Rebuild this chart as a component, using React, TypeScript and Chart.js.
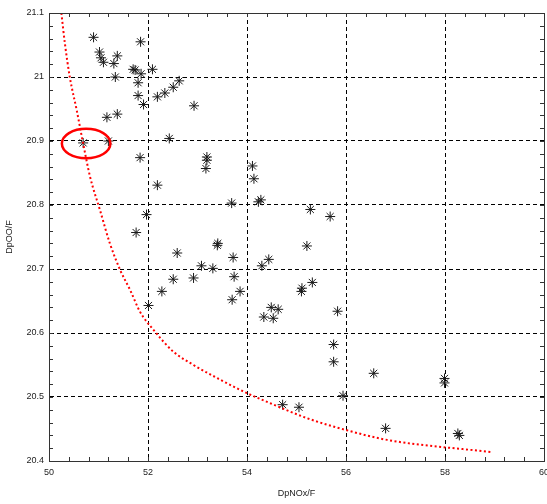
import { useEffect, useRef } from "react";
import { Chart, registerables } from "chart.js";

Chart.register(...registerables);

// Axis ranges & ticks
const xMin = 50;
const xMax = 60;
const xStep = 2;
const xMinorStep = 0.4;
const yMin = 20.4;
const yMax = 21.1;
const yStep = 0.1;
const yMinorStep = 0.02;

const xTitle = "DpNOx/F";
const yTitle = "DpOO/F";

// Scatter points (asterisks)
const pointsX = [
  50.9, 51.02, 51.05, 51.1, 51.31, 51.38, 51.34, 51.17, 51.38, 50.69,
  51.85, 51.7, 51.74, 51.86, 51.8, 51.8, 51.91, 52.09, 52.19, 52.34,
  52.51, 52.63, 52.93, 52.43, 51.84, 52.19, 53.19, 53.19, 53.17, 51.97,
  51.76, 53.69, 54.11, 54.14, 54.23, 54.28, 55.28, 55.68, 53.41, 53.4,
  52.59, 53.72, 55.21, 53.08, 53.31, 54.3, 54.44, 52.51, 52.92, 53.74,
  52.28, 53.86, 53.7, 52.01, 55.11, 55.1, 55.32, 54.49, 54.63, 54.34,
  54.53, 55.83, 55.75, 55.75, 56.56, 57.99, 57.99, 55.94, 54.72, 55.05,
  56.8, 58.26, 58.29, 51.2,
];
const pointsY = [
  21.062, 21.039, 21.03, 21.023, 21.021, 21.033, 21.0, 20.937, 20.942, 20.897,
  21.055, 21.012, 21.011, 21.005, 20.991, 20.971, 20.957, 21.012, 20.969, 20.975,
  20.984, 20.994, 20.955, 20.904, 20.874, 20.831, 20.875, 20.87, 20.857, 20.785,
  20.757, 20.803, 20.861, 20.841, 20.805, 20.808, 20.793, 20.782, 20.74, 20.737,
  20.725, 20.718, 20.736, 20.705, 20.701, 20.705, 20.715, 20.684, 20.686, 20.688,
  20.665, 20.665, 20.652, 20.643, 20.67, 20.665, 20.679, 20.64, 20.637, 20.625,
  20.623, 20.634, 20.582, 20.555, 20.537, 20.529, 20.522, 20.502, 20.488, 20.484,
  20.451, 20.443, 20.44, 20.9,
];

// Red dotted frontier curve
const curveX = [
  50.25, 50.32, 50.42, 50.56, 50.69, 50.83, 51.03, 51.23, 51.44, 51.64,
  51.84, 52.11, 52.51, 52.92, 53.46, 54.0, 54.54, 55.21, 56.02, 56.83, 58.92,
];
const curveY = [
  21.1, 21.053, 21.0, 20.948, 20.896, 20.844, 20.792, 20.74, 20.698, 20.667,
  20.633, 20.605, 20.571, 20.55, 20.527, 20.506, 20.488, 20.467, 20.448, 20.433, 20.414,
];

// Highlight ellipse (data units)
const ellipseCenterX = 50.75;
const ellipseCenterY = 20.896;
const ellipseHalfW = 0.49;
const ellipseHalfH = 0.023;

const FONT = "'Liberation Sans', Arial, sans-serif";

const framePlugin = {
  id: "frame",
  afterDatasetsDraw(chart: any) {
    const { ctx, scales } = chart;
    const xs = scales.x;
    const ys = scales.y;
    const cx = xs.getPixelForValue(ellipseCenterX);
    const cy = ys.getPixelForValue(ellipseCenterY);
    const rx = Math.abs(xs.getPixelForValue(ellipseCenterX + ellipseHalfW) - cx);
    const ry = Math.abs(ys.getPixelForValue(ellipseCenterY + ellipseHalfH) - cy);
    ctx.save();
    ctx.setLineDash([]);
    ctx.strokeStyle = "#ff0000";
    ctx.lineWidth = 2.5;
    ctx.beginPath();
    ctx.ellipse(cx, cy, rx, ry, 0, 0, Math.PI * 2);
    ctx.stroke();
    ctx.restore();
  },
  afterDraw(chart: any) {
    const { ctx, chartArea: a, scales } = chart;
    const xs = scales.x;
    const ys = scales.y;
    ctx.save();
    ctx.setLineDash([]);
    ctx.strokeStyle = "#333";
    ctx.lineWidth = 1;
    ctx.beginPath();
    const nx = Math.round((xMax - xMin) / xMinorStep);
    for (let i = 0; i <= nx; i++) {
      const px = Math.round(xs.getPixelForValue(xMin + i * xMinorStep)) + 0.5;
      ctx.moveTo(px, a.bottom);
      ctx.lineTo(px, a.bottom - 4);
      ctx.moveTo(px, a.top);
      ctx.lineTo(px, a.top + 4);
    }
    const ny = Math.round((yMax - yMin) / yMinorStep);
    for (let i = 0; i <= ny; i++) {
      const py = Math.round(ys.getPixelForValue(yMin + i * yMinorStep)) + 0.5;
      ctx.moveTo(a.left, py);
      ctx.lineTo(a.left + 4, py);
      ctx.moveTo(a.right, py);
      ctx.lineTo(a.right - 4, py);
    }
    ctx.stroke();
    ctx.strokeRect(
      Math.round(a.left) + 0.5,
      Math.round(a.top) + 0.5,
      Math.round(a.right) - Math.round(a.left),
      Math.round(a.bottom) - Math.round(a.top)
    );
    ctx.restore();
  },
};

export default function App() {
  const ref = useRef<HTMLCanvasElement | null>(null);

  useEffect(() => {
    if (!ref.current) return;
    const scatter = pointsX.map((x, i) => ({ x, y: pointsY[i] }));
    const curve = curveX.map((x, i) => ({ x, y: curveY[i] }));
    const chart = new Chart(ref.current, {
      type: "scatter",
      data: {
        datasets: [
          {
            label: "curve",
            data: curve,
            showLine: true,
            borderColor: "#ff0000",
            borderWidth: 2,
            borderDash: [2, 2.5],
            pointRadius: 0,
            cubicInterpolationMode: "monotone",
            fill: false,
          } as any,
          {
            label: "points",
            data: scatter,
            pointStyle: "star",
            pointRadius: 5,
            borderColor: "#1a1a1a",
            backgroundColor: "#1a1a1a",
            borderWidth: 1,
          } as any,
        ],
      },
      options: {
        animation: false,
        responsive: false,
        devicePixelRatio: 1,
        events: [],
        layout: { autoPadding: false, padding: { top: 13, right: 3, left: 0, bottom: 0 } },
        plugins: {
          legend: { display: false },
          tooltip: { enabled: false },
        },
        scales: {
          x: {
            type: "linear",
            min: xMin,
            max: xMax,
            afterFit: (s: any) => {
              s.height = 43;
              s.paddingLeft = 0;
              s.paddingRight = 0;
            },
            ticks: {
              stepSize: xStep,
              padding: 6,
              color: "#222",
              font: { family: FONT, size: 9 },
              callback: (v: any) => String(Math.round(Number(v) * 10) / 10),
            },
            grid: {
              color: "#000",
              lineWidth: 1,
              drawTicks: false,
            },
            border: { display: true, color: "#333", dash: [4, 3] },
            title: {
              display: true,
              text: xTitle,
              color: "#222",
              font: { family: FONT, size: 9 },
              padding: { top: 4, bottom: 5 },
            },
          },
          y: {
            type: "linear",
            min: yMin,
            max: yMax,
            afterFit: (s: any) => {
              s.width = 49;
              s.paddingTop = 0;
              s.paddingBottom = 0;
            },
            ticks: {
              stepSize: yStep,
              padding: 5,
              color: "#222",
              font: { family: FONT, size: 9 },
              callback: (v: any) => String(Math.round(Number(v) * 10) / 10),
            },
            grid: {
              color: "#000",
              lineWidth: 1,
              drawTicks: false,
            },
            border: { display: true, color: "#333", dash: [4, 3] },
            title: {
              display: true,
              text: yTitle,
              color: "#222",
              font: { family: FONT, size: 9 },
              padding: { top: 4, bottom: 4 },
            },
          },
        },
      },
      plugins: [framePlugin],
    });
    return () => chart.destroy();
  }, []);

  return (
    <div style={{ position: "absolute", left: 0, top: 0, width: 547, height: 504, background: "#fff" }}>
      <canvas ref={ref} width={547} height={504} />
    </div>
  );
}
